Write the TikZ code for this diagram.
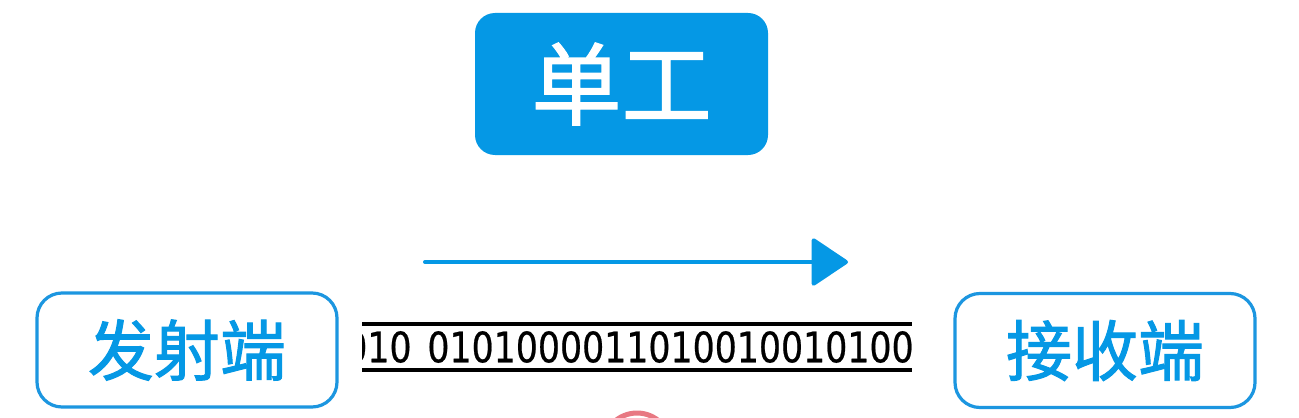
\documentclass[tikz,border=0pt]{standalone}
\usepackage{fontspec}
\newfontfamily\cjk[FakeBold=1.5]{Noto Sans CJK SC}
\newfontfamily\digitfont[FakeBold=0.6]{DejaVu Sans Condensed}
\usetikzlibrary{arrows.meta}
\definecolor{mainblue}{RGB}{5,152,229}
\definecolor{lineblue}{RGB}{28,150,224}
\definecolor{markred}{RGB}{232,120,130}
\tikzset{
  endbox/.style={draw=lineblue, line width=1.6pt, rounded corners=12.5pt, fill=white,
    minimum width=150pt, minimum height=57pt, inner sep=0pt,
    text=mainblue, font=\cjk\fontsize{33pt}{33pt}\selectfont},
  titlebox/.style={fill=mainblue, rounded corners=10pt, minimum width=146.5pt,
    minimum height=71pt, inner sep=0pt, text=white,
    font=\cjk\fontsize{45pt}{45pt}\selectfont},
  bits/.style={font=\digitfont\fontsize{21pt}{21pt}\selectfont, inner sep=0pt, anchor=east},
  tape/.style={line width=1.8pt, black},
  flow/.style={draw=mainblue, line width=2pt, line cap=round,
    -{Triangle[length=19pt, width=25pt, round]}}
}
\begin{document}
\begin{tikzpicture}[x=0.5pt, y=-0.5pt]
\useasboundingbox (0,0) rectangle (1299,417);
\fill[white] (0,0) rectangle (1299,417);
% title
\node[titlebox] (title) at (621.5,84) {单工};
% end boxes
\node[endbox] (tx) at (187,350) {发射端};
\node[endbox] (rx) at (1105,350.5) {接收端};
% arrow
\coordinate (a1) at (425,262);
\coordinate (a2) at (848,262);
\draw[flow] (a1) -- (a2);
% tape
\coordinate (t1) at (362,324);
\coordinate (t2) at (912,324);
\coordinate (b1) at (362,370);
\coordinate (b2) at (912,370);
\draw[tape] (t1) -- (t2);
\draw[tape] (b1) -- (b2);
\begin{scope}
\clip (362,326) rectangle (414,368);
\node[bits] (bitsa) at (412,347) {\scalebox{0.92}[1]{010}};
\end{scope}
\begin{scope}
\clip (420,326) rectangle (912,368);
\node[bits, anchor=west] (bitsb) at (427,347) {\scalebox{0.92}[1]{0101000011010010010100}};
\end{scope}
% red mark at bottom edge
\begin{scope}
\clip (0,0) rectangle (1299,417);
\draw[markred, line width=2.5pt] (637,447) circle (34);
\end{scope}
\end{tikzpicture}
\end{document}
